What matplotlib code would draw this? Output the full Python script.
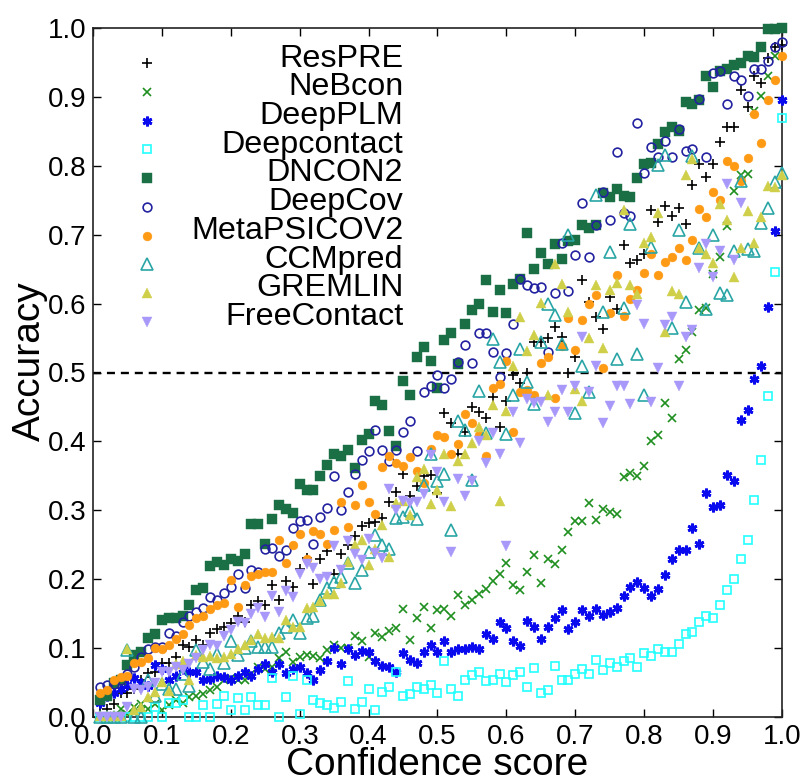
import matplotlib
matplotlib.use('Agg')
import matplotlib.pyplot as plt

plt.rcParams['font.family'] = ['Liberation Sans', 'DejaVu Sans']

# confidence bins, 0.01 to 1.00
scores = [i / 100 for i in range(1, 101)]

respre = [.006, .012, .019, .035, .035, .04, .053, .064, .065, .078,
          .078, .087, .104, .101, .112, .105, .122, .127, .13, .136,
          .146, .138, .162, .168, .163, .192, .17, .197, .188, .215,
          .231, .193, .23, .241, .207, .237, .25, .263, .277, .281,
          .283, .289, .312, .326, .353, .321, .335, .35, .351, .325,
          .441, .427, .382, .414, .45, .443, .434, .464, .421, .459,
          .496, .485, .5, .544, .544, .55, .566, .552, .5, .522,
          .634, .602, .58, .563, .61, .592, .685, .659, .663, .672,
          .736, .719, .741, .727, .739, .716, .772, .803, .784, .803,
          .835, .857, .857, .91, .885, .93, .92, .957, .973, .975]

nebcon = [0, 0, .002, .012, .005, .015, .019, .012, .019, .01,
          .018, .024, .02, .029, .031, .034, .039, .043, .053, .056,
          .053, .054, .063, .072, .07, .072, .085, .094, .08, .087,
          .09, .089, .085, .097, .104, .1, .1, .117, .11, .087,
          .122, .116, .125, .129, .157, .112, .143, .159, .129, .156,
          .157, .146, .177, .163, .17, .179, .186, .197, .207, .224,
          .192, .184, .211, .235, .195, .229, .222, .243, .268, .285,
          .285, .311, .286, .302, .297, .295, .349, .354, .35, .364,
          .401, .409, .456, .434, .519, .533, .559, .591, .593, .643,
          .667, .712, .763, .786, .788, .879, .902, .93, .96, 1.0]

deepplm = [.02, .03, .035, .04, .046, .057, .05, .045, .075, .07,
           .053, .06, .07, .065, .065, .053, .055, .06, .058, .053,
           .06, .065, .059, .07, .077, .065, .077, .064, .07, .072,
           .064, .053, .068, .082, .0995, .077, .098, .09, .096, .094,
           .081, .074, .072, .065, .093, .083, .079, .094, .104, .095,
           .11, .095, .098, .098, .101, .099, .12, .113, .138, .129,
           .111, .103, .139, .131, .113, .131, .143, .155, .128, .138,
           .155, .146, .157, .148, .152, .158, .175, .188, .196, .187,
           .176, .186, .206, .229, .242, .243, .274, .251, .325, .305,
           .308, .351, .343, .431, .445, .491, .51, .595, .705, .896]

deepcontact = [0, 0, 0, 0, 0, 0, 0, 0, .015, 0,
               .02, .02, .024, 0, 0, .018, 0, .019, .031, .01,
               .027, .01, .029, .018, .017, .056, 0, .029, .059, .005,
               .053, .024, .02, .017, .013, .022, .052, .011, .022, .04,
               .01, .036, .043, .065, .031, .033, .044, .04, .047, .035,
               .081, .041, .031, .054, .061, .066, .052, .054, .063, .051,
               .061, .066, .043, .071, .035, .039, .074, .054, .054, .063,
               .07, .063, .083, .068, .078, .072, .082, .085, .072, .093,
               .089, .099, .094, .094, .106, .121, .123, .138, .147, .143,
               .162, .185, .201, .23, .257, .315, .373, .466, .646, .87]

dncon2 = [.024, .03, .05, .053, .075, .09, .094, .115, .12, .141,
          .143, .144, .147, .163, .184, .187, .219, .225, .22, .229,
          .227, .237, .28, .28, .251, .287, .307, .302, .296, .338,
          .329, .33, .35, .366, .382, .379, .388, .361, .402, .411,
          .458, .453, .415, .394, .487, .468, .522, .537, .517, .477,
          .547, .557, .513, .571, .59, .6, .634, .588, .62, .586,
          .628, .635, .702, .65, .674, .657, .686, .665, .691, .693,
          .714, .709, .714, .76, .754, .767, .756, .755, .782, .802,
          .804, .831, .849, .857, .85, .892, .89, .895, .931, .915,
          .937, .94, .947, .949, .96, .958, .973, .998, .999, 1.0]

deepcov = [.043, .046, .048, .053, .063, .072, .087, .098, .101, .102,
           .122, .118, .138, .146, .152, .158, .174, .17, .18, .189,
           .207, .187, .213, .21, .244, .245, .234, .243, .274, .284,
           .286, .251, .29, .304, .35, .301, .327, .352, .373, .386,
           .417, .388, .372, .388, .414, .429, .386, .471, .48, .496,
           .478, .491, .515, .54, .514, .557, .557, .53, .493, .528,
           .57, .635, .627, .622, .624, .53, .615, .688, .619, .671,
           .746, .668, .714, .762, .721, .82, .732, .727, .862, .79,
           .828, .813, .836, .813, .853, .822, .825, .897, .813, .935,
           .938, .89, .93, .925, .902, .941, .94, .952, .973, .979]

metapsicov2 = [.035, .039, .053, .058, .059, .079, .08, .086, .1, .099,
               .104, .113, .12, .133, .144, .146, .157, .162, .166, .199,
               .16, .191, .204, .208, .21, .21, .257, .224, .25, .265,
               .23, .27, .265, .251, .271, .312, .276, .307, .336, .312,
               .295, .363, .379, .368, .364, .378, .357, .34, .389, .409,
               .407, .382, .396, .44, .426, .409, .379, .478, .483, .517,
               .413, .472, .475, .467, .514, .522, .463, .539, .579, .532,
               .576, .6, .613, .507, .586, .642, .582, .607, .62, .645,
               .672, .642, .661, .668, .681, .664, .692, .738, .725, .762,
               .75, .807, .799, .778, .812, .875, .833, .895, .924, .96]

ccmpred = [0, 0, 0, 0, .097, 0, 0, .053, .03, .048,
           .04, .04, .063, .045, .097, .08, .07, .092, .079, .11,
           .09, .1, .111, .101, .101, .101, .122, .13, .141, .122,
           .143, .147, .17, .187, .196, .203, .223, .194, .214, .24,
           .264, .25, .244, .289, .29, .3, .287, .336, .381, .343,
           .352, .272, .429, .417, .344, .473, .412, .548, .515, .411,
           .468, .534, .486, .455, .544, .6, .584, .541, .699, .441,
           .51, .472, .757, .588, .675, .519, .593, .716, .527, .468,
           .682, .801, .816, .565, .707, .603, .814, .68, .592, .699,
           .616, .613, .677, .778, .679, .676, .717, .739, .777, .79]

gremlin = [.002, .002, .002, .002, .099, .01, .015, .029, .036, .051,
           .038, .077, .082, .053, .09, .087, .089, .085, .087, .092,
           .099, .104, .112, .121, .115, .116, .115, .141, .13, .13,
           .158, .16, .169, .178, .179, .194, .225, .249, .257, .22,
           .244, .278, .232, .311, .313, .293, .348, .36, .309, .33,
           .381, .306, .371, .382, .398, .421, .41, .453, .314, .444,
           .51, .58, .531, .555, .601, .467, .658, .628, .588, .476,
           .458, .55, .627, .535, .62, .63, .736, .627, .614, .688,
           .696, .732, .559, .618, .614, .786, .81, .68, .672, .659,
           .744, .722, .638, .68, .734, .688, .725, .771, .769, .787]

# nothing drawn for FreeContact above 0.94
freecontact = [0, 0, 0, 0, .015, .041, .039, .043, .05, .065,
               .065, .072, .068, .077, .085, .097, .104, .103, .118, .126,
               .138, .136, .15, .158, .145, .176, .152, .183, .174, .208,
               .222, .216, .2, .203, .248, .213, .256, .236, .228, .259,
               .238, .231, .331, .301, .314, .31, .312, .324, .38, .355,
               .312, .24, .345, .321, .343, .4, .369, .412, .382, .248,
               .443, .397, .461, .456, .457, .428, .443, .475, .443, .481,
               .552, .471, .51, .427, .452, .481, .481, .455, .598, .571,
               .457, .506, .569, .581, .481, .551, .562, .651, .686, .638,
               .676, .773, .664, .746]

ticks = [0.0, 0.1, 0.2, 0.3, 0.4, 0.5, 0.6, 0.7, 0.8, 0.9, 1.0]

fig = plt.figure(figsize=(8.04, 7.8), dpi=100)
ax = fig.add_axes([93 / 804, 1 - 717 / 780, 689 / 804, 689 / 780])

ax.axhline(0.5, color='black', lw=1.7, dashes=(3.4, 2.5), zorder=1)


def draw(values, label, marker, color, size, hollow=False, mew=1.2):
    face = 'none' if hollow else color
    ax.plot(scores[:len(values)], values, ls='none', marker=marker, ms=size, mfc=face, mec=color,
            mew=mew, label=label, clip_on=False, zorder=3)


draw(respre, 'ResPRE', '+', 'black', 6.8)
draw(nebcon, 'NeBcon', 'x', '#1f8f1f', 6.4)
draw(deepplm, 'DeepPLM', (6, 2, 0), '#0a0aee', 7, mew=2)
draw(deepcontact, 'Deepcontact', 's', '#22ffff', 6, hollow=True)
draw(dncon2, 'DNCON2', 's', '#1a7044', 6.8, mew=0.3)
draw(deepcov, 'DeepCov', 'o', '#2222a0', 6.3, hollow=True)
draw(metapsicov2, 'MetaPSICOV2', 'o', '#ff9a14', 6.4, mew=0.3)
draw(ccmpred, 'CCMpred', '^', '#2aa5a5', 8.2, hollow=True)
draw(gremlin, 'GREMLIN', '^', '#cfcf4a', 7.8, mew=0.3)
draw(freecontact, 'FreeContact', 'v', '#a898fa', 7.8, mew=0.3)

ax.set_xlim(0, 1)
ax.set_ylim(0, 1)
ax.set_xticks(ticks)
ax.set_yticks(ticks)
ax.tick_params(direction='in', top=True, right=True, length=6, width=1, labelsize=20, pad=5)
for side in ax.spines.values():
    side.set_linewidth(1.2)
    side.set_color('#222222')
    side.set_zorder(2)

ax.set_xlabel('Confidence score', fontsize=28, labelpad=-2)
ax.set_ylabel('Accuracy', fontsize=28)
ax.yaxis.set_label_coords(-0.066, 0.517)

leg = ax.legend(loc='upper left', bbox_to_anchor=(0.0122, 1.008), frameon=False, numpoints=1, fontsize=23.3,
                labelspacing=-0.04, handletextpad=0.87, handlelength=1)
fig.canvas.draw()
texts = leg.get_texts()
widest = max(t.get_window_extent().width for t in texts)
# TextArea keeps left edges lined up, so push each label over by hand
for t in texts:
    t.set_position((widest - t.get_window_extent().width, 8))

fig.savefig('out.png', dpi=100)
